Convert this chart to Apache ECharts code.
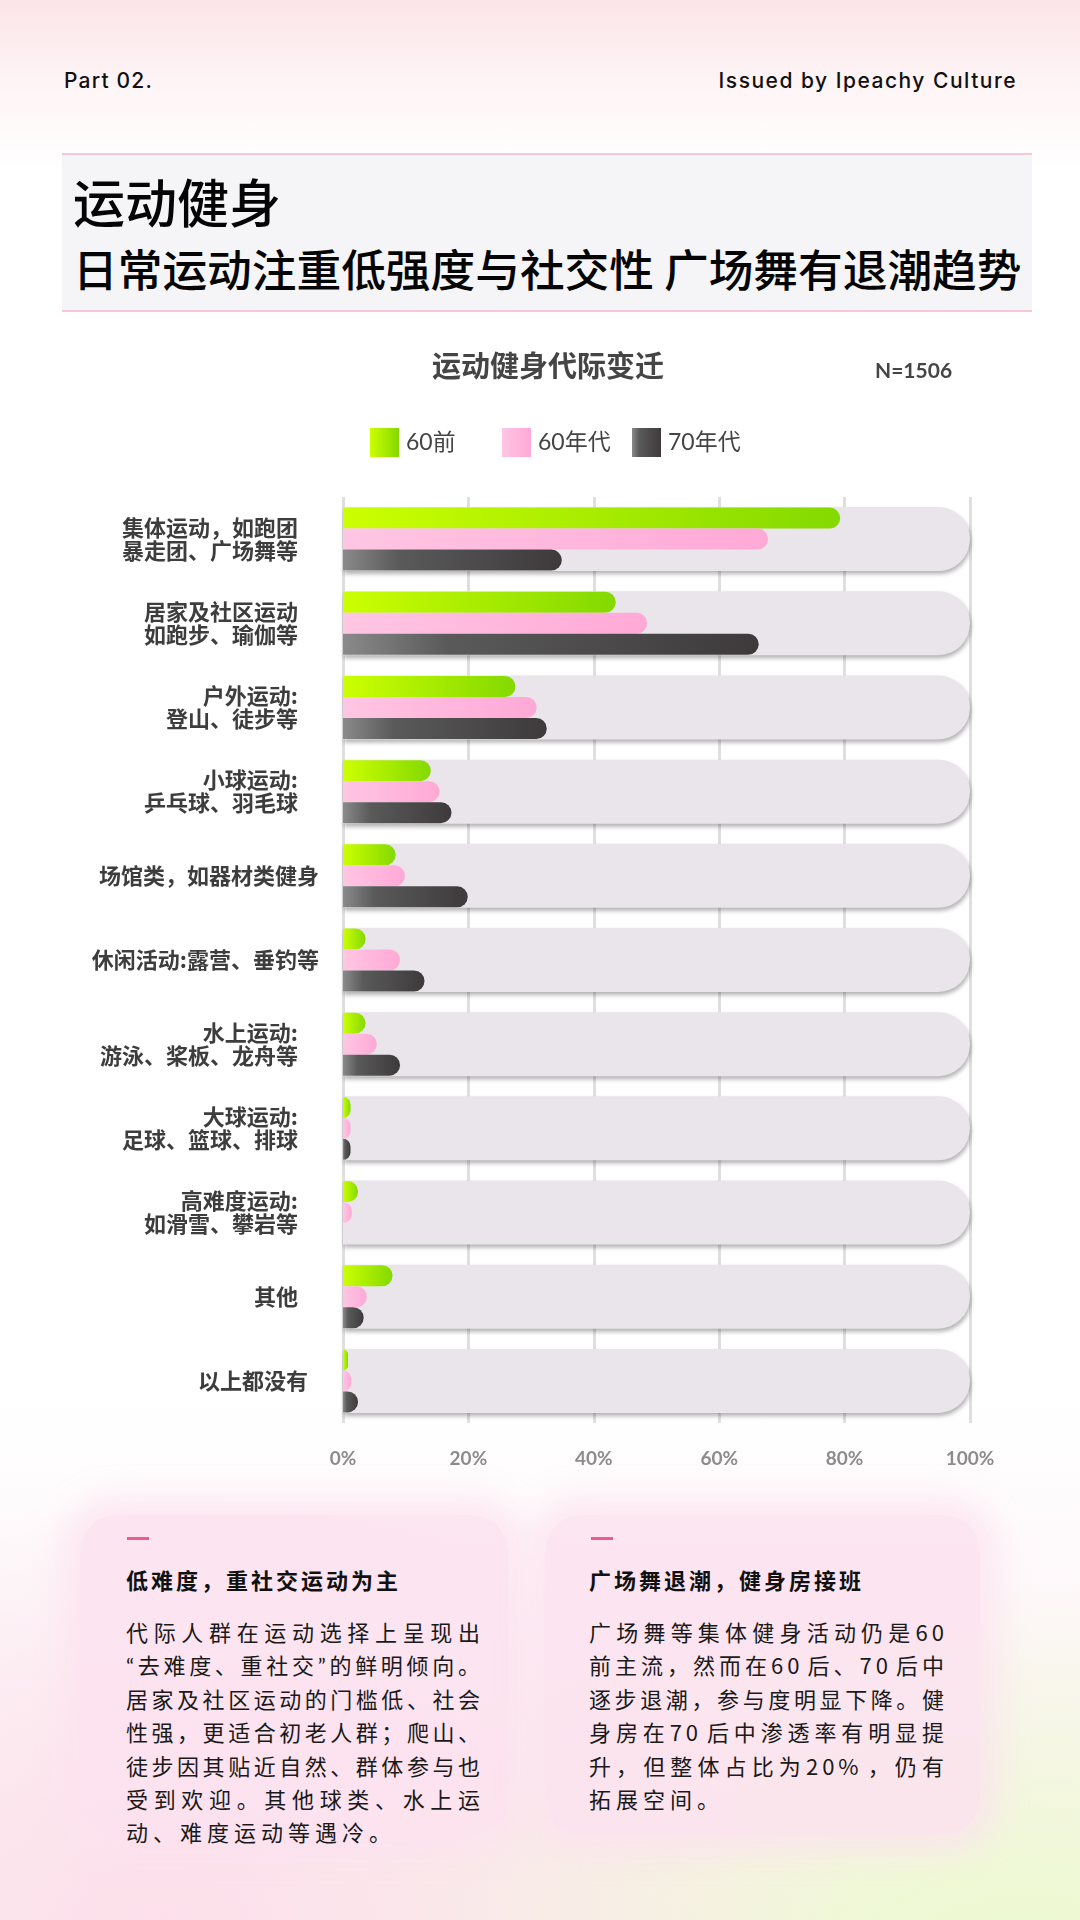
<!DOCTYPE html>
<html>
<head>
<meta charset="utf-8">
<script src="https://cdn.jsdelivr.net/npm/echarts@6/dist/echarts.min.js"></script>
<style>
  html, body { margin: 0; padding: 0; }
  body {
    width: 1080px; height: 1920px; position: relative; overflow: hidden;
    font-family: "Noto Sans CJK SC", sans-serif;
    background:
      radial-gradient(ellipse 700px 420px at 15% 100%, rgba(252,222,234,0.95), rgba(252,222,234,0) 100%),
      radial-gradient(ellipse 750px 380px at 95% 102%, rgba(236,250,206,1), rgba(236,250,206,0) 100%),
      linear-gradient(to bottom, #fce4e8 0px, #fef4f5 80px, #ffffff 170px, #ffffff 1400px, #fdf4f7 1700px, #fbf3f0 1920px);
  }
  .hdr { position: absolute; top: 68px; font-family: Inter, "Noto Sans", sans-serif; font-size: 21px; font-weight: 500; color: #111; letter-spacing: 1.2px; }
  .titlebox {
    position: absolute; left: 62px; top: 153px; width: 970px; height: 155px;
    background: #f5f5f7; border-top: 2px solid #f5c7d8; border-bottom: 2px solid #f5c7d8;
  }
  .t1, .t2 { position: absolute; left: 11px; font-weight: 500; color: #050505; white-space: nowrap; line-height: 1; }
  .t1 { top: 20px; font-size: 52px; }
  .t2 { top: 91px; font-size: 44.7px; }
  .card {
    position: absolute; top: 1515px; height: 320px; border-radius: 36px;
    background: rgba(252,226,239,0.85);
    box-shadow: 0 0 30px 18px rgba(252,226,239,0.75);
  }
  .dash { position: absolute; top: 22px; width: 22px; height: 3px; background: #ee5b90; }
  .ch { position: absolute; top: 48px; font-size: 22px; font-weight: 700; color: #111; letter-spacing: 3px; white-space: nowrap; }
  .cb { position: absolute; top: 100px; font-size: 22px; color: #1a1a1a; line-height: 33.4px; }
  .jl { height: 33.4px; text-align: justify; text-align-last: justify; }
  .ll { height: 33.4px; letter-spacing: 5px; white-space: nowrap; }
  .q { font-family: Lato, sans-serif; }
  .d { letter-spacing: 4px; }
  #chart { position: absolute; left: 0; top: 0; width: 1080px; height: 1920px; }
</style>
</head>
<body>
<div class="hdr" style="left:64px;">Part 02.</div>
<div class="hdr" style="right:63px; letter-spacing:1.5px;">Issued by Ipeachy Culture</div>
<div class="titlebox">
  <div class="t1">运动健身</div>
  <div class="t2">日常运动注重低强度与社交性 广场舞有退潮趋势</div>
</div>

<div class="card" style="left:80px; width:428px;">
  <div class="dash" style="left:47px;"></div>
  <div class="ch" style="left:46px;">低难度，重社交运动为主</div>
  <div class="cb" style="left:46px; width:354px;">
    <div class="jl">代际人群在运动选择上呈现出</div>
    <div class="jl"><span class="q">“</span>去难度、重社交<span class="q">”</span>的鲜明倾向。</div>
    <div class="jl">居家及社区运动的门槛低、社会</div>
    <div class="jl">性强，更适合初老人群；爬山、</div>
    <div class="jl">徒步因其贴近自然、群体参与也</div>
    <div class="jl">受到欢迎。其他球类、水上运</div>
    <div class="ll">动、难度运动等遇冷。</div>
  </div>
</div>
<div class="card" style="left:545px; width:435px;">
  <div class="dash" style="left:46px;"></div>
  <div class="ch" style="left:44px;">广场舞退潮，健身房接班</div>
  <div class="cb" style="left:44px; width:355px;">
    <div class="jl">广场舞等集体健身活动仍是<span class="d" style="letter-spacing:4px">6</span>0</div>
    <div class="jl">前主流，然而在<span class="d">60</span>后、<span class="d">70</span>后中</div>
    <div class="jl">逐步退潮，参与度明显下降。健</div>
    <div class="jl">身房在<span class="d">70</span>后中渗透率有明显提</div>
    <div class="jl">升，但整体占比为<span class="d">20%</span>，仍有</div>
    <div class="ll">拓展空间。</div>
  </div>
</div>

<div id="chart"></div>

<script>
// ---- data ----
const categories = [
  '集体运动，如跑团\n暴走团、广场舞等',
  '居家及社区运动\n如跑步、瑜伽等',
  '户外运动:\n登山、徒步等',
  '小球运动:\n乒乓球、羽毛球',
  '场馆类，如器材类健身',
  '休闲活动:露营、垂钓等',
  '水上运动:\n游泳、桨板、龙舟等',
  '大球运动:\n足球、篮球、排球',
  '高难度运动:\n如滑雪、攀岩等',
  '其他',
  '以上都没有'
];
const seriesNames = ['60前', '60年代', '70年代'];
const pre60 = [79.3, 43.5, 27.5, 14.0, 8.4, 3.6, 3.6, 1.2, 2.4, 7.9, 0.8];
const gen60 = [67.8, 48.5, 30.9, 15.4, 9.9, 9.1, 5.4, 1.2, 1.4, 3.8, 1.3];
const gen70 = [34.9, 66.3, 32.5, 17.3, 19.9, 13.0, 9.1, 1.2, 0, 3.3, 2.4];
const xTicks = [0, 20, 40, 60, 80, 100];
const chartTitle = '运动健身代际变迁';
const sampleNote = 'N=1506';

// ---- chart ----
const chart = echarts.init(document.getElementById('chart'), null, { renderer: 'canvas' });
const G = echarts.graphic.LinearGradient;
const colors = [
  new G(0, 0, 1, 0, [{ offset: 0, color: '#ccff00' }, { offset: 1, color: '#84d900' }]),
  new G(0, 0, 1, 0, [{ offset: 0, color: '#ffc6e3' }, { offset: 1, color: '#ffa9d7' }]),
  new G(0, 0, 1, 0, [{ offset: 0, color: '#8a8a8a' }, { offset: 0.25, color: '#5a5a5a' }, { offset: 1, color: '#3e3a3c' }])
];
const padRight = { 4: 0, 5: 0, 10: 11 };
const yData = categories.map((c, i) => ({
  value: c,
  textStyle: { padding: [0, (padRight[i] !== undefined ? padRight[i] : 21), 0, 0] }
}));
const seriesData = [pre60, gen60, gen70];
const legendLefts = [370, 502, 632];
const font = '"Noto Sans CJK SC", sans-serif';

const option = {
  backgroundColor: 'transparent',
  animation: false,
  title: [
    { text: chartTitle, left: 432, top: 351, padding: 0, textStyle: { fontSize: 29, fontWeight: 'bold', color: '#454545', fontFamily: font } },
    { text: sampleNote, left: 875, top: 361, padding: 0, textStyle: { fontSize: 21, fontWeight: 'bold', color: '#454545', fontFamily: 'Lato, ' + font } }
  ],
  legend: seriesNames.map((n, i) => ({
    data: [n], left: legendLefts[i], top: 428, itemWidth: 29, itemHeight: 29, icon: 'rect',
    itemGap: 0, padding: 0, selectedMode: false,
    textStyle: { fontSize: 23, color: '#444', fontFamily: 'Lato, ' + font, padding: [0, 0, 0, 2] }
  })),
  grid: { left: 343, top: 497, width: 627, height: 926, containLabel: false },
  xAxis: {
    type: 'value', min: 0, max: 100, interval: 20,
    axisLine: { show: false }, axisTick: { show: false },
    splitLine: { show: true, lineStyle: { color: '#dfdfdf', width: 3 } },
    axisLabel: {
      margin: 26, fontSize: 19, fontWeight: 'bold', color: '#8c8c8c', fontFamily: 'Lato, sans-serif',
      formatter: v => (xTicks.indexOf(v) >= 0 ? v + '%' : '')
    }
  },
  yAxis: [
    {
      type: 'category', inverse: true, data: yData,
      axisLine: { show: false }, axisTick: { show: false }, splitLine: { show: false },
      axisLabel: { margin: 24, fontSize: 22, fontWeight: 'bold', color: '#3d3d3d', lineHeight: 23, align: 'right', fontFamily: font }
    },
    { type: 'category', inverse: true, data: categories, show: false }
  ],
  series: [
    {
      name: 'track', type: 'bar', yAxisIndex: 1, barWidth: 64, silent: true, z: 1,
      data: categories.map(() => 100),
      itemStyle: {
        color: '#e9e5ea', borderRadius: [0, 32, 32, 0],
        shadowColor: 'rgba(0,0,0,0.30)', shadowBlur: 4, shadowOffsetY: 3, shadowOffsetX: 1
      }
    }
  ].concat(seriesNames.map((n, i) => ({
    name: n, type: 'bar', yAxisIndex: 0, barWidth: 21, barGap: '0%', z: 3,
    data: seriesData[i],
    itemStyle: { color: colors[i], borderRadius: [0, 10.5, 10.5, 0] }
  })))
};
chart.setOption(option);
</script>
</body>
</html>
